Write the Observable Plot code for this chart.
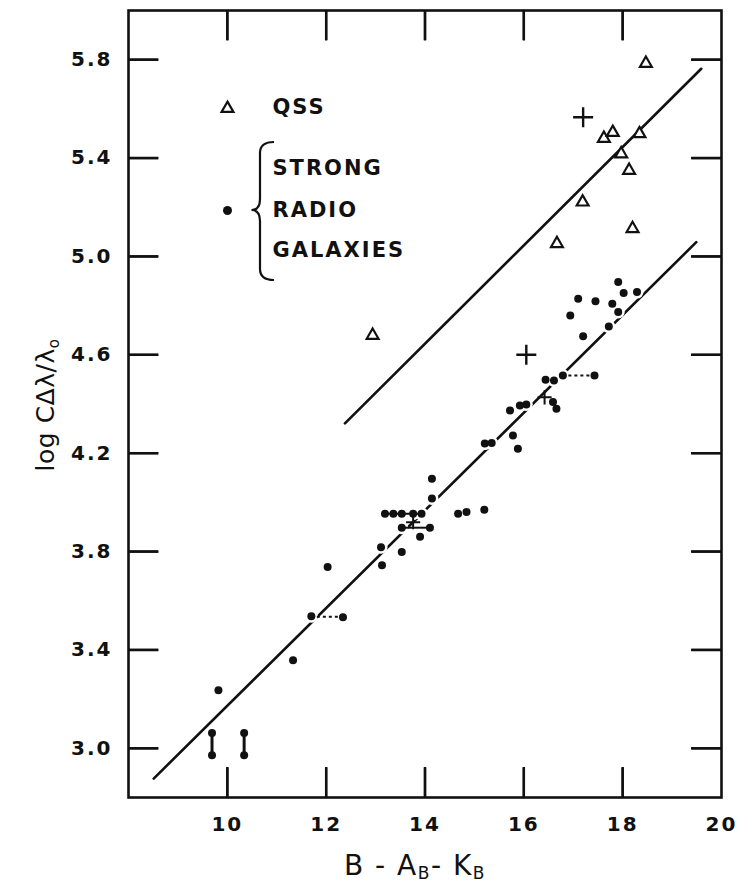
<!DOCTYPE html>
<html><head><meta charset="utf-8">
<script src="https://cdn.jsdelivr.net/npm/d3@7"></script>
<script src="https://cdn.jsdelivr.net/npm/@observablehq/plot@0.6"></script>
<style>
html,body{margin:0;padding:0;background:#fff;}
#chart svg{display:block;background:#fff;}
</style></head><body><div id="chart"></div>
<script>
// QSS (open triangles)
const qssX = [18.47, 17.62, 17.80, 18.34, 17.97, 18.13, 17.19, 18.20, 16.67, 12.94];
const qssY = [5.785, 5.480, 5.504, 5.499, 5.417, 5.350, 5.221, 5.113, 5.052, 4.679];
// Strong radio galaxies (filled dots)
const galX = [17.91, 17.10, 17.45, 18.02, 18.29, 17.79, 17.91, 16.94, 17.72, 17.20,
              16.79, 17.43, 16.44, 16.61, 16.59, 16.66, 15.72, 15.92, 16.05, 15.78,
              15.88, 15.21, 15.35, 14.14, 14.14, 13.19, 13.36, 13.53, 13.76, 13.93,
              14.67, 14.84, 15.20, 13.53, 14.10, 13.90, 13.11, 13.53, 13.13, 12.03,
              11.70, 12.34, 11.33, 9.82, 9.69, 9.69, 10.34, 10.34];
const galY = [4.896, 4.828, 4.818, 4.851, 4.855, 4.808, 4.774, 4.760, 4.715, 4.675,
              4.516, 4.516, 4.499, 4.496, 4.408, 4.381, 4.374, 4.394, 4.398, 4.272,
              4.218, 4.239, 4.241, 4.096, 4.016, 3.954, 3.954, 3.954, 3.954, 3.954,
              3.954, 3.961, 3.970, 3.897, 3.897, 3.860, 3.818, 3.798, 3.744, 3.737,
              3.537, 3.533, 3.358, 3.236, 3.062, 2.972, 3.062, 2.972];
// Crosses
const bigCrossX = [17.20, 16.05];
const bigCrossY = [5.566, 4.600];
const smallCrossX = [16.42, 13.76];
const smallCrossY = [4.427, 3.919];
// Horizontal connectors between dots
const hLinkX1 = [16.79, 13.19, 13.53, 11.70];
const hLinkX2 = [17.43, 13.93, 14.10, 12.34];
const hLinkY  = [4.516, 3.954, 3.897, 3.535];
const hLinkDash = ["3,3", null, null, "3,3"];
// Vertical connectors
const vLinkX  = [9.69, 10.34];
const vLinkY1 = [2.972, 2.972];
const vLinkY2 = [3.062, 3.062];
// Fitted lines (end points)
const upperFitX = [12.38, 19.59];
const upperFitY = [4.321, 5.763];
const lowerFitX = [8.51, 19.49];
const lowerFitY = [2.877, 5.058];
// Ticks
const xTicks = [10, 12, 14, 16, 18, 20];
const xInnerTicks = [10, 12, 14, 16, 18];
const yTicks = [3.0, 3.4, 3.8, 4.2, 4.6, 5.0, 5.4, 5.8];
const legendLabels = ["QSS", "STRONG", "RADIO", "GALAXIES"];

const W = 742, H = 885, mL = 128, mR = 21, mT = 10, mB = 88;
const tickLen = 30;
const xMin = 8, xMax = 20, yMin = 2.8, yMax = 6.0;
// tick length converted to data units along each axis
const tyLen = tickLen * (yMax - yMin) / (H - mT - mB);
const txLen = tickLen * (xMax - xMin) / (W - mL - mR);
const xTickSegs = [
  ...xInnerTicks.map(v => ({x: v, y1: yMin, y2: yMin + tyLen})),
  ...xInnerTicks.map(v => ({x: v, y1: yMax - tyLen, y2: yMax}))
];
const yTickSegs = [
  ...yTicks.map(v => ({y: v, x1: xMin, x2: xMin + txLen})),
  ...yTicks.map(v => ({y: v, x1: xMax - txLen, x2: xMax}))
];

const qss = qssX.map((x, i) => ({x, y: qssY[i]}));
const gal = galX.map((x, i) => ({x, y: galY[i]}));
const bigCross = bigCrossX.map((x, i) => ({x, y: bigCrossY[i]}));
const smallCross = smallCrossX.map((x, i) => ({x, y: smallCrossY[i]}));
const hLinks = hLinkX1.map((x1, i) => ({x1, x2: hLinkX2[i], y: hLinkY[i], dash: hLinkDash[i]}));
const vLinks = vLinkX.map((x, i) => ({x, y1: vLinkY1[i], y2: vLinkY2[i]}));
const upperFit = upperFitX.map((x, i) => ({x, y: upperFitY[i]}));
const lowerFit = lowerFitX.map((x, i) => ({x, y: lowerFitY[i]}));

const font = "DejaVu Sans";
const ink = "#111";
const legendText = (label, dy) => Plot.text([label], {text: d => d, frameAnchor: "top-left", dx: 144, dy, textAnchor: "start", lineAnchor: "middle", fontSize: 21, fontWeight: "bold", fontFamily: font, fill: ink});

const chart = Plot.plot({
  width: W, height: H,
  marginLeft: mL, marginRight: mR, marginTop: mT, marginBottom: mB,
  x: {domain: [xMin, xMax], axis: null},
  y: {domain: [yMin, yMax], axis: null},
  marks: [
    // inward ticks
    Plot.ruleX(xTickSegs, {x: "x", y1: "y1", y2: "y2", stroke: ink, strokeWidth: 2.4}),
    Plot.ruleY(yTickSegs, {y: "y", x1: "x1", x2: "x2", stroke: ink, strokeWidth: 2.4}),
    Plot.frame({stroke: ink, strokeWidth: 2.6}),
    Plot.link(xTickSegs, {x1: "x", x2: "x", y1: "y1", y2: "y2", stroke: ink, strokeWidth: 2.4}),
    Plot.link(yTickSegs, {y1: "y", y2: "y", x1: "x1", x2: "x2", stroke: ink, strokeWidth: 2.4}),
    // fitted lines
    Plot.line(upperFit, {x: "x", y: "y", stroke: ink, strokeWidth: 2.6}),
    Plot.line(lowerFit, {x: "x", y: "y", stroke: ink, strokeWidth: 2.6}),
    // data
    Plot.dot(gal, {x: "x", y: "y", r: 6.5, fill: "#fff", stroke: "none"}),
    Plot.ruleY(hLinks.filter(d => !d.dash), {x1: "x1", x2: "x2", y: "y", stroke: ink, strokeWidth: 2}),
    Plot.ruleY(hLinks.filter(d => d.dash), {x1: "x1", x2: "x2", y: "y", stroke: ink, strokeWidth: 2, strokeDasharray: "3,3"}),
    Plot.ruleX(vLinks, {x: "x", y1: "y1", y2: "y2", stroke: ink, strokeWidth: 3}),
    Plot.dot(gal, {x: "x", y: "y", r: 4, fill: ink, stroke: "none"}),
    Plot.dot(qss, {x: "x", y: "y", r: 4.4, symbol: "triangle", fill: "#fff", stroke: ink, strokeWidth: 2.2}),
    Plot.dot(bigCross, {x: "x", y: "y", r: 6.5, symbol: "plus", stroke: ink, strokeWidth: 2.4}),
    Plot.dot(smallCross, {x: "x", y: "y", r: 4.6, symbol: "plus", stroke: ink, strokeWidth: 2}),
    // tick labels
    Plot.text(xTicks, {x: d => d, text: d => String(d), frameAnchor: "bottom", lineAnchor: "middle", dy: 27, fontSize: 20, fontWeight: "bold", fontFamily: font, fill: ink}),
    Plot.text(yTicks, {y: d => d, text: d => d3.format(".1f")(d), frameAnchor: "left", textAnchor: "end", lineAnchor: "middle", dx: -16, fontSize: 20, fontWeight: "bold", fontFamily: font, fill: ink}),
    // legend
    Plot.dot([0], {frameAnchor: "top-left", dx: 99, dy: 98, r: 4.4, symbol: "triangle", fill: "#fff", stroke: ink, strokeWidth: 2.2}),
    Plot.dot([0], {frameAnchor: "top-left", dx: 99, dy: 200, r: 4.5, fill: ink}),
    legendText(legendLabels[0], 97),
    legendText(legendLabels[1], 158),
    legendText(legendLabels[2], 200),
    legendText(legendLabels[3], 240)
  ]
});

const svg = d3.select(chart);
svg.selectAll("text").style("letter-spacing", "2px");

// legend brace
svg.append("path")
  .attr("d", "M274,142 Q260,142 260,153 L260,199 Q260,210 251.5,210 Q260,210 260,221 L260,269 Q260,280 274,280")
  .attr("fill", "none").attr("stroke", ink).attr("stroke-width", 2.2);

// x axis title with subscripts
const xt = svg.append("text")
  .attr("x", 415).attr("y", 875)
  .attr("text-anchor", "middle")
  .attr("font-family", font).attr("font-size", 28).attr("fill", ink)
  .style("letter-spacing", "1.5px");
xt.append("tspan").text("B - A");
xt.append("tspan").attr("font-size", 17).attr("dy", 4).text("B");
xt.append("tspan").attr("dy", -4).text("- K");
xt.append("tspan").attr("font-size", 17).attr("dy", 4).text("B");

// y axis title
const yt = svg.append("text")
  .attr("transform", "translate(54,405) rotate(-90)")
  .attr("text-anchor", "middle")
  .attr("font-family", font).attr("font-size", 25).attr("fill", ink)
  .style("letter-spacing", "0.5px");
yt.append("tspan").text("log CΔλ/λ");
yt.append("tspan").attr("font-size", 15).attr("dy", 5).text("o");

document.getElementById("chart").appendChild(chart);
</script>
</body></html>
